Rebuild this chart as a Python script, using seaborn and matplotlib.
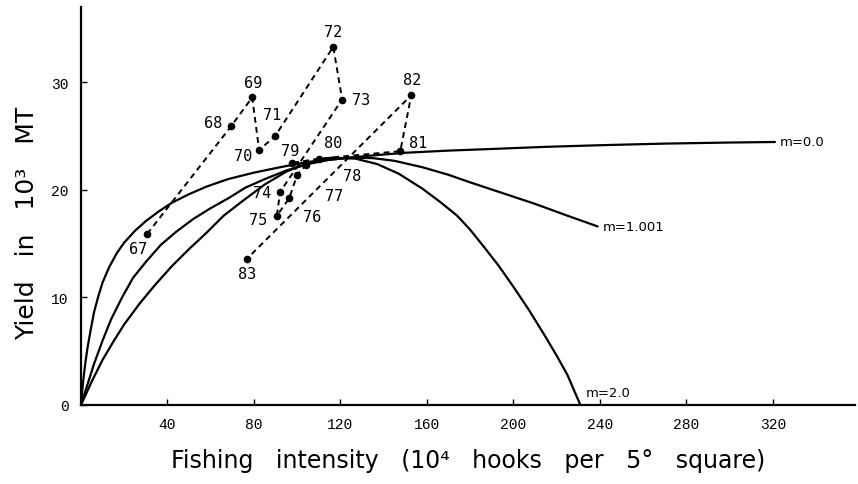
import pandas as pd
import matplotlib
matplotlib.use("Agg")
import matplotlib.pyplot as plt
import seaborn as sns

# catch-effort points by year (1967-1983)
years = ["67", "68", "69", "70", "71", "72", "73", "74", "75", "76",
         "77", "78", "79", "80", "81", "82", "83"]
effort = [30.6, 69.4, 79.2, 82.4, 89.8, 116.7, 120.8, 92.1, 90.6, 96.3,
          100.0, 104.0, 97.5, 110.0, 147.7, 152.8, 76.8]
yield_obs = [15.9, 25.9, 28.6, 23.7, 25.0, 33.3, 28.4, 19.8, 17.6, 19.2,
             21.4, 22.3, 22.5, 22.9, 23.6, 28.8, 13.6]

# production model curves
m0_x = [0, 1, 2, 3, 4.5, 6, 8, 10, 13, 16.5, 20, 25, 30, 36, 42, 50, 58, 68, 80, 92,
        105, 120, 135, 150, 170, 190, 215, 240, 270, 300, 321]
m0_y = [0, 2.2, 3.9, 5.3, 7.0, 8.6, 10.1, 11.4, 12.8, 14.1, 15.1, 16.2, 17.1, 18.0, 18.8,
        19.6, 20.3, 21.0, 21.6, 22.1, 22.6, 22.9, 23.2, 23.45, 23.65, 23.8, 24.0, 24.15,
        24.3, 24.4, 24.45]
m1_x = [0, 3, 6, 10, 14, 19, 24, 30, 37, 44, 52, 60, 68, 76, 85, 95, 105, 115, 125, 135,
        145, 158, 170, 180, 195, 210, 225, 239]
m1_y = [0, 1.9, 3.8, 6.0, 8.0, 10.0, 11.8, 13.3, 14.9, 16.1, 17.3, 18.3, 19.2, 20.2, 21.0,
        21.8, 22.4, 22.8, 23.0, 22.95, 22.7, 22.1, 21.4, 20.7, 19.7, 18.7, 17.6, 16.6]
m2_x = [0, 5, 10, 15, 20, 27, 34, 42, 50, 58, 66, 75, 85, 95, 105, 116, 127, 137, 147, 158,
        166, 174, 180, 186, 193, 200, 207, 215, 220, 225, 231]
m2_y = [0, 2.2, 4.2, 5.9, 7.5, 9.4, 11.1, 12.9, 14.5, 16.0, 17.6, 19.0, 20.5, 21.7, 22.5,
        23.0, 22.9, 22.4, 21.5, 20.1, 18.9, 17.6, 16.3, 14.8, 13.0, 11.0, 8.9, 6.3, 4.6,
        2.8, 0]
curve_names = ["m=0.0", "m=1.001", "m=2.0"]

x_ticks = [40, 80, 120, 160, 200, 240, 280, 320]
y_ticks = [0, 10, 20, 30]

sns.set_style("ticks")
plt.rcParams['font.family'] = ['DejaVu Sans']
for k in ['text.color', 'axes.labelcolor', 'xtick.color', 'ytick.color', 'axes.edgecolor']:
    plt.rcParams[k] = 'black'

obs = pd.DataFrame({'year': years, 'effort': effort, 'yield': yield_obs})
curves = pd.concat([
    pd.DataFrame({'f': m0_x, 'y': m0_y, 'm': curve_names[0]}),
    pd.DataFrame({'f': m1_x, 'y': m1_y, 'm': curve_names[1]}),
    pd.DataFrame({'f': m2_x, 'y': m2_y, 'm': curve_names[2]}),
])

fig = plt.figure(figsize=(8.58, 4.85), dpi=100)
ax = fig.add_axes([0.0944, 0.1629, 0.902, 0.8206])

sns.lineplot(data=curves, x='f', y='y', units='m', estimator=None, sort=False,
             color='black', linewidth=1.6, ax=ax)
sns.lineplot(data=obs, x='effort', y='yield', sort=False, color='black',
             linewidth=1.4, linestyle=(0, (3, 2.2)), marker='o', markersize=5.5,
             markeredgewidth=0, ax=ax)

# year labels, offsets in pixels from each dot
offsets = {"67": (-9, -15), "68": (-18, 4), "69": (1, 15), "70": (-16, -5),
           "71": (-3, 22), "72": (0, 15), "73": (19, 0), "74": (-18, 0),
           "75": (-19, -4), "76": (23, -18), "77": (37, -21), "78": (46, -10),
           "79": (-2, 12), "80": (14, 16), "81": (18, 9), "82": (1, 16),
           "83": (0, -15)}
for yr, fx, fy in zip(years, effort, yield_obs):
    ax.annotate(yr, (fx, fy), xytext=offsets[yr], textcoords='offset pixels',
                ha='center', va='center', fontsize=11, family='DejaVu Sans Mono')

# curve labels at the line ends
for name, xs, ys in zip(curve_names, [m0_x, m1_x, m2_x], [m0_y, m1_y, m2_y]):
    ax.annotate(name, (xs[-1], ys[-1]), xytext=(5, 0) if name != "m=2.0" else (5, 12),
                textcoords='offset pixels', ha='left', va='center', fontsize=9.5)

ax.set_xlim(0, 358)
ax.set_ylim(0, 37)
ax.set_xticks(x_ticks)
ax.set_yticks(y_ticks)
ax.tick_params(direction='in', length=4, width=1, labelsize=10.5, pad=9)
for lab in ax.get_xticklabels() + ax.get_yticklabels():
    lab.set_family('Liberation Mono')
sns.despine(ax=ax)
for sp in ['left', 'bottom']:
    ax.spines[sp].set_linewidth(1.6)

ax.set_xlabel("Fishing   intensity   (10⁴   hooks   per   5°   square)", fontsize=17, labelpad=12)
ax.set_ylabel("Yield   in   10³   MT", fontsize=18)
ax.yaxis.set_label_coords(-0.054, 0.46)

plt.savefig("out.png", dpi=100)
